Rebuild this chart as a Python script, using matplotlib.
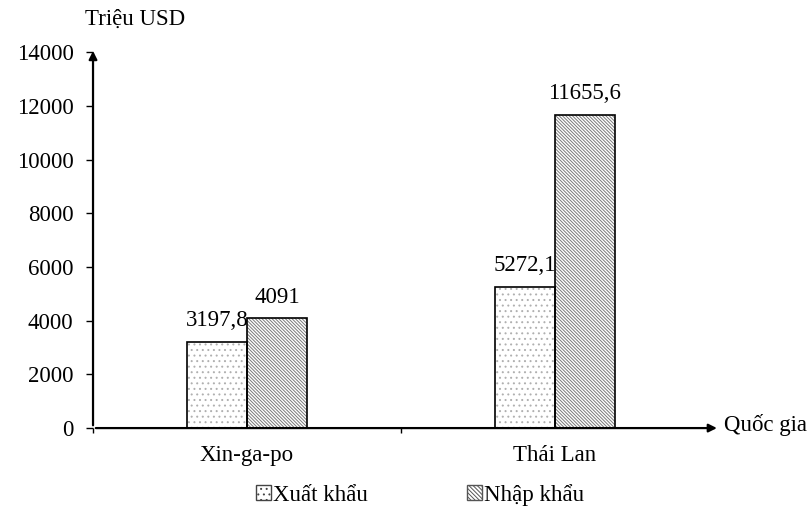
import matplotlib
matplotlib.use("Agg")
import matplotlib.pyplot as plt
from matplotlib.patches import Patch
import numpy as np

categories = ["Xin-ga-po", "Thái Lan"]
xuat_khau = [3197.8, 5272.1]
nhap_khau = [4091, 11655.6]
xuat_labels = ["3197,8", "5272,1"]
nhap_labels = ["4091", "11655,6"]
yticks = [0, 2000, 4000, 6000, 8000, 10000, 12000, 14000]

plt.rcParams['font.family'] = ['Liberation Serif', 'DejaVu Serif']
plt.rcParams['hatch.linewidth'] = 0.7

FS = 16.5
fig = plt.figure(figsize=(8.11, 5.17), dpi=100)
ax = fig.add_axes([0.1147, 0.172, 0.767, 0.727])

x = np.arange(len(categories))
w = 0.195
# hatch layers (gray), then black outline
ax.bar(x - w/2, xuat_khau, w, facecolor='white', edgecolor='#b0b0b0', linewidth=0, hatch='...')
ax.bar(x + w/2, nhap_khau, w, facecolor='white', edgecolor='#7a7a7a', linewidth=0, hatch='\\' * 10)
ax.bar(x - w/2, xuat_khau, w, facecolor='none', edgecolor='black', linewidth=1.2)
ax.bar(x + w/2, nhap_khau, w, facecolor='none', edgecolor='black', linewidth=1.2)

for i in range(len(categories)):
    ax.text(x[i] - w/2, xuat_khau[i] + 400, xuat_labels[i], ha='center', va='bottom', fontsize=FS)
    ax.text(x[i] + w/2, nhap_khau[i] + 400, nhap_labels[i], ha='center', va='bottom', fontsize=FS)

ax.set_xlim(-0.5, 1.52)
ax.set_ylim(0, 14000)
ax.set_yticks(yticks)
ax.set_yticklabels([str(v) for v in yticks], fontsize=FS)
ax.set_xticks(x)
ax.set_xticklabels(categories, fontsize=FS)
ax.tick_params(axis='x', length=0, pad=12)
ax.set_xticks([-0.5, 0.5], minor=True)
ax.tick_params(axis='x', which='minor', length=3.5, direction='out', width=1.0)
ax.tick_params(axis='y', length=5, direction='out', pad=9, width=1.0)

for s in ['top', 'right', 'left', 'bottom']:
    ax.spines[s].set_visible(False)

# axis arrows
ax.annotate('', xy=(-0.5, 14150), xytext=(-0.5, 0), xycoords='data',
            arrowprops=dict(arrowstyle='-|>', color='black', lw=1.6, mutation_scale=12),
            annotation_clip=False)
ax.annotate('', xy=(1.535, 0), xytext=(-0.5, 0), xycoords='data',
            arrowprops=dict(arrowstyle='-|>', color='black', lw=1.6, mutation_scale=12),
            annotation_clip=False)

fig.text(0.105, 0.963, "Triệu USD", fontsize=FS, ha='left', va='center')
fig.text(0.893, 0.177, "Quốc gia", fontsize=FS, ha='left', va='center')

handles = [Patch(facecolor='white', edgecolor='#444444', hatch='...', label='Xuất khẩu'),
           Patch(facecolor='white', edgecolor='#555555', hatch='\\' * 8, label='Nhập khẩu')]
fig.legend(handles=handles, loc='center', bbox_to_anchor=(0.518, 0.043), ncol=2, frameon=False,
           prop={'size': FS}, handlelength=0.65, handleheight=0.65,
           handletextpad=0.1, columnspacing=4.3)

fig.savefig("out.png", dpi=100)
